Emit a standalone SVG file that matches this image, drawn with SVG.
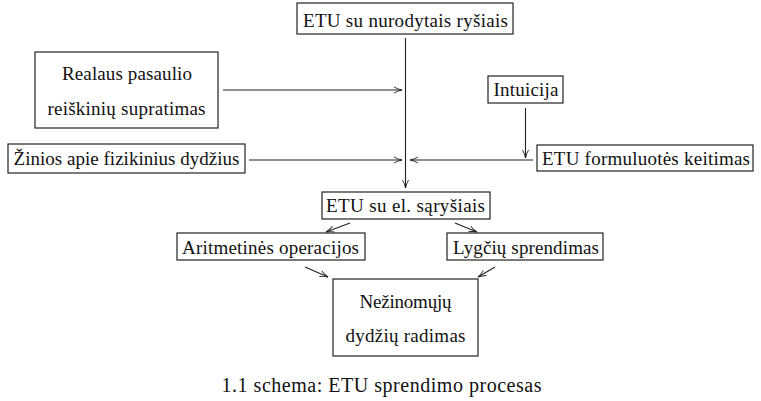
<svg xmlns="http://www.w3.org/2000/svg" width="761" height="401" viewBox="0 0 761 401">
  <style>
    .box { fill: #ffffff; stroke: #222222; stroke-width: 1.2; }
    .lbl { font-family: "Liberation Serif", "DejaVu Serif", serif; font-size: 19px; fill: #111111; text-anchor: middle; }
    .cap { font-size: 20px; }
    .edge { fill: none; stroke: #222222; stroke-width: 1.1; marker-end: url(#arrow); }
  </style>
  <defs>
    <marker id="arrow" viewBox="0 0 10 10" refX="9" refY="5" markerWidth="10" markerHeight="10" markerUnits="userSpaceOnUse" orient="auto">
      <path d="M1,2 Q5,4.3 9,5 Q5,5.7 1,8" fill="none" stroke="#222222" stroke-width="0.9"/>
    </marker>
  </defs>

  <g id="connectors">
    <path class="edge" d="M405.5,38 V188"/>
    <path class="edge" d="M223,90 H402"/>
    <path class="edge" d="M249,160 H402"/>
    <path class="edge" d="M525.5,108 V158"/>
    <path class="edge" d="M533,160 H410"/>
    <path class="edge" d="M350,223 L326,232"/>
    <path class="edge" d="M455,223 L477,232"/>
    <path class="edge" d="M305,267 L328,277"/>
    <path class="edge" d="M495,267 L478,277"/>
  </g>

  <g id="n-etu-rysiai">
    <rect class="box" x="297" y="3" width="216" height="31"/>
    <text class="lbl" x="405.5" y="26.5" textLength="205" lengthAdjust="spacing">ETU su nurodytais ryšiais</text>
  </g>
  <g id="n-realaus">
    <rect class="box" x="35" y="52" width="183" height="76"/>
    <text class="lbl" x="127" y="80" textLength="130" lengthAdjust="spacing">Realaus pasaulio</text>
    <text class="lbl" x="126.5" y="114.5" textLength="158" lengthAdjust="spacing">reiškinių supratimas</text>
  </g>
  <g id="n-zinios">
    <rect class="box" x="8" y="144" width="237" height="29"/>
    <text class="lbl" x="126.5" y="164.5" textLength="226" lengthAdjust="spacing">Žinios apie fizikinius dydžius</text>
  </g>
  <g id="n-intuicija">
    <rect class="box" x="488" y="76" width="75" height="27"/>
    <text class="lbl" x="526" y="95.5" textLength="65" lengthAdjust="spacing">Intuicija</text>
  </g>
  <g id="n-formuluotes">
    <rect class="box" x="537" y="145" width="216" height="26"/>
    <text class="lbl" x="646" y="165" textLength="208" lengthAdjust="spacing">ETU formuluotės keitimas</text>
  </g>
  <g id="n-el-sarysiai">
    <rect class="box" x="322" y="192" width="168" height="27"/>
    <text class="lbl" x="405.5" y="211.5" textLength="159" lengthAdjust="spacing">ETU su el. sąryšiais</text>
  </g>
  <g id="n-aritmetines">
    <rect class="box" x="177" y="233" width="188" height="27"/>
    <text class="lbl" x="270.5" y="254" textLength="177" lengthAdjust="spacing">Aritmetinės operacijos</text>
  </g>
  <g id="n-lygciu">
    <rect class="box" x="447" y="233" width="156" height="27"/>
    <text class="lbl" x="526" y="254" textLength="146" lengthAdjust="spacing">Lygčių sprendimas</text>
  </g>
  <g id="n-nezinomuju">
    <rect class="box" x="333" y="279" width="145" height="77"/>
    <text class="lbl" x="405.5" y="308" textLength="92" lengthAdjust="spacing">Nežinomųjų</text>
    <text class="lbl" x="405.5" y="342" textLength="120" lengthAdjust="spacing">dydžių radimas</text>
  </g>

  <text class="lbl cap" x="381.5" y="392" textLength="320" lengthAdjust="spacing">1.1 schema: ETU sprendimo procesas</text>
</svg>
